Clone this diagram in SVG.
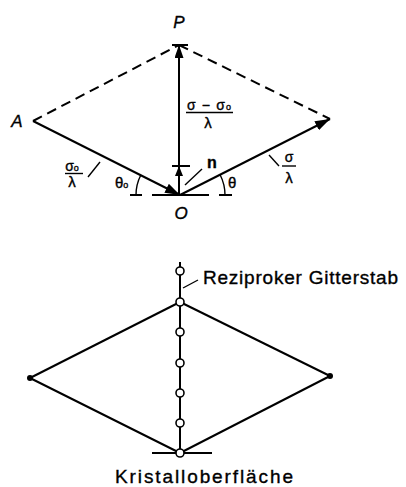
<svg xmlns="http://www.w3.org/2000/svg" width="406" height="487" viewBox="0 0 406 487">
<style>
.ln{stroke:#000;stroke-width:2;fill:none}
.th{stroke:#000;stroke-width:1.4;fill:none}
.dash{stroke:#000;stroke-width:2;fill:none;stroke-dasharray:10 6}
.t{font-family:"Liberation Sans",Arial,sans-serif;fill:#000;stroke:#000;stroke-width:0.35}
.it{font-style:italic}
.pt{fill:#fff;stroke:#000;stroke-width:1.6}
.dot{fill:#000}
</style>
<defs>
<marker id="big" markerUnits="userSpaceOnUse" markerWidth="16" markerHeight="10" refX="15" refY="5" orient="auto"><path d="M0,0 L15,5 L0,10 z" fill="#000"/></marker>
<marker id="mid" markerUnits="userSpaceOnUse" markerWidth="14" markerHeight="10" refX="13" refY="4.5" orient="auto"><path d="M0,0 L13,4.5 L0,9 z" fill="#000"/></marker>
<marker id="sm" markerUnits="userSpaceOnUse" markerWidth="11" markerHeight="8" refX="10" refY="4" orient="auto"><path d="M0,0 L10,4 L0,8 z" fill="#000"/></marker>
</defs>

<g id="connectors">
  <line class="dash" x1="33" y1="121" x2="179" y2="45"/>
  <line class="dash" x1="179" y1="45" x2="330" y2="119"/>
  <line class="ln" x1="33" y1="121" x2="180" y2="195" marker-end="url(#big)"/>
  <line class="ln" x1="180" y1="195" x2="330" y2="119" marker-end="url(#big)"/>
  <line class="ln" x1="179" y1="195" x2="179" y2="166" marker-end="url(#sm)"/>
  <line class="ln" x1="179" y1="166" x2="179" y2="45" marker-end="url(#mid)"/>
  <line class="ln" x1="130" y1="195" x2="142" y2="195"/>
  <line class="ln" x1="152" y1="195" x2="209" y2="195"/>
  <line class="ln" x1="219" y1="195" x2="232" y2="195"/>
  <path class="th" d="M136,195 A44,44 0 0,1 140.7,175.2"/>
  <path class="th" d="M225,195 A45,45 0 0,0 220.1,174.7"/>
  <line class="th" x1="88" y1="177" x2="100" y2="162"/>
  <line class="th" x1="269" y1="155" x2="279" y2="166"/>
  <line class="th" x1="185" y1="185" x2="202" y2="169"/>
  <line class="ln" x1="180" y1="262" x2="180" y2="453"/>
  <line class="ln" x1="180" y1="302" x2="30" y2="378"/>
  <line class="ln" x1="180" y1="302" x2="330" y2="376"/>
  <line class="ln" x1="30" y1="378" x2="180" y2="453"/>
  <line class="ln" x1="330" y1="376" x2="180" y2="453"/>
  <line class="ln" x1="152" y1="453" x2="212" y2="453"/>
  <line class="th" x1="183" y1="288" x2="198" y2="280"/>
</g>

<g id="node-P">
  <line class="ln" x1="172" y1="45" x2="188" y2="45"/>
  <text class="t it" x="179" y="28" font-size="17" text-anchor="middle">P</text>
</g>
<g id="node-A">
  <text class="t it" x="17" y="127" font-size="17" text-anchor="middle">A</text>
</g>
<g id="node-O">
  <text class="t it" x="181" y="219" font-size="17" text-anchor="middle">O</text>
</g>
<g id="node-n">
  <line class="ln" x1="172" y1="166" x2="190" y2="166"/>
  <text class="t" x="212" y="168" font-size="16" font-weight="bold" text-anchor="middle">n</text>
</g>
<g id="label-diff">
  <text class="t" x="209" y="110" font-size="14" text-anchor="middle" textLength="44" lengthAdjust="spacing">σ − σ<tspan font-size="9">o</tspan></text>
  <line class="th" x1="186" y1="112.5" x2="233" y2="112.5"/>
  <text class="t" x="208" y="128" font-size="15" text-anchor="middle">λ</text>
</g>
<g id="label-s0">
  <text class="t" x="72" y="171" font-size="14" text-anchor="middle">σ<tspan font-size="9">o</tspan></text>
  <line class="th" x1="65" y1="173.5" x2="83" y2="173.5"/>
  <text class="t" x="72" y="187" font-size="15" text-anchor="middle">λ</text>
</g>
<g id="label-s">
  <text class="t" x="289" y="162" font-size="14" text-anchor="middle">σ</text>
  <line class="th" x1="282" y1="166" x2="296" y2="166"/>
  <text class="t" x="289" y="183" font-size="15" text-anchor="middle">λ</text>
</g>
<g id="label-theta0">
  <text class="t" x="115" y="188" font-size="15">θ<tspan font-size="9">o</tspan></text>
</g>
<g id="label-theta">
  <text class="t" x="228" y="188" font-size="15">θ</text>
</g>

<g id="lattice-rod">
  <circle class="pt" cx="180" cy="271" r="4"/>
  <circle class="pt" cx="180" cy="302" r="4"/>
  <circle class="pt" cx="180" cy="332" r="4"/>
  <circle class="pt" cx="180" cy="363" r="4"/>
  <circle class="pt" cx="180" cy="393" r="4"/>
  <circle class="pt" cx="180" cy="423" r="4"/>
  <circle class="pt" cx="180" cy="453" r="4"/>
</g>
<g id="point-left"><circle class="dot" cx="30" cy="378" r="3"/></g>
<g id="point-right"><circle class="dot" cx="330" cy="376" r="3"/></g>
<g id="label-rod">
  <text class="t" x="203" y="284" font-size="19" textLength="195" lengthAdjust="spacing">Reziproker Gitterstab</text>
</g>
<g id="label-surface">
  <text class="t" x="115" y="483" font-size="19" textLength="178" lengthAdjust="spacing">Kristalloberfläche</text>
</g>
</svg>
